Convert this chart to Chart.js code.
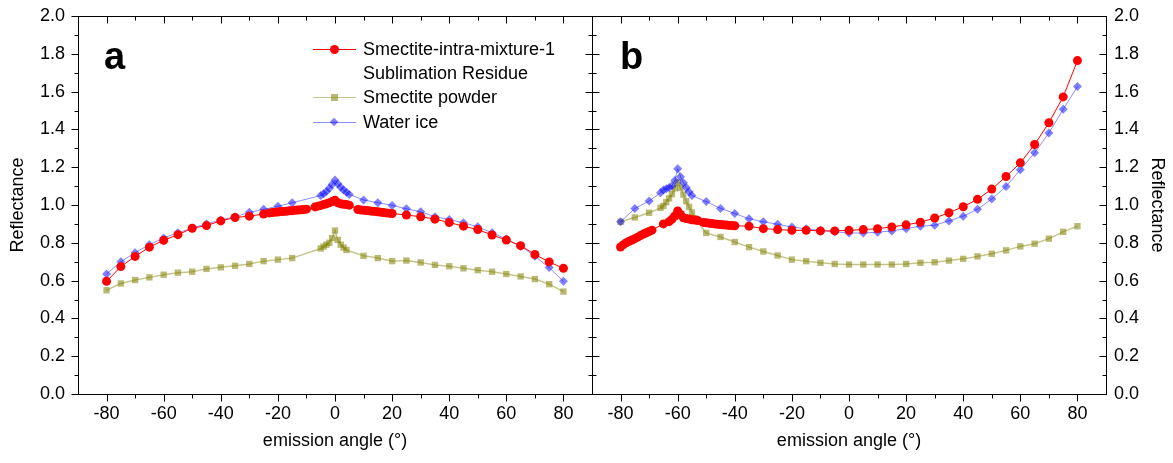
<!DOCTYPE html>
<html>
<head>
<meta charset="utf-8">
<script src="https://cdn.jsdelivr.net/npm/chart.js@4.4.0/dist/chart.umd.min.js"></script>
<style>
  body { margin: 0; background: #fff; }
  #wrap { position: relative; width: 1173px; height: 463px; overflow: hidden; font-family: Arial, "Liberation Sans", sans-serif; color: #000; }
  canvas { position: absolute; top: 0; }
  #chartA { left: 0; }
  #chartB { left: 584px; }
  .panel { position: absolute; font-weight: bold; font-size: 38px; line-height: 38px; }
  #legend { position: absolute; left: 313px; top: 37px; font-size: 18px; }
  .row { position: relative; height: 24.2px; line-height: 24.2px; padding-left: 50px; white-space: nowrap; }
  .key { position: absolute; left: 0; top: 12px; width: 43px; height: 0; }
  .mk { position: absolute; }
</style>
</head>
<body>
<div id="wrap">
  <canvas id="chartA" width="600" height="463"></canvas>
  <canvas id="chartB" width="589" height="463"></canvas>
  <div class="panel" style="left:104px; top:37px;">a</div>
  <div class="panel" style="left:620px; top:37px;">b</div>
  <div id="legend"></div>
</div>
<script>
// ---- data ----
const seriesNames = ['Smectite-intra-mixture-1 Sublimation Residue', 'Smectite powder', 'Water ice'];
const legendLines = [['Smectite-intra-mixture-1', 'Sublimation Residue'], ['Smectite powder'], ['Water ice']];

const xTicks = [-80, -60, -40, -20, 0, 20, 40, 60, 80];
const yTicks = [0, 0.2, 0.4, 0.6, 0.8, 1.0, 1.2, 1.4, 1.6, 1.8, 2.0];

// panel a
const aResidueAngle = [-80, -75, -70, -65, -60, -55, -50, -45, -40, -35, -30, -25,
  -23, -22, -21, -20, -19, -18, -17, -16, -15, -14, -13, -12, -11, -10,
  -7, -6, -5, -4, -3, -2, -1, 0, 1, 2, 3, 4, 5,
  8, 9, 10, 11, 12, 13, 14, 15, 16, 17, 18, 19, 20,
  25, 30, 35, 40, 45, 50, 55, 60, 65, 70, 75, 80];
const aResidueRefl = [0.596, 0.674, 0.728, 0.777, 0.813, 0.843, 0.877, 0.891, 0.916, 0.934, 0.941, 0.952,
  0.958, 0.960, 0.962, 0.963, 0.965, 0.966, 0.967, 0.969, 0.970, 0.972, 0.973, 0.975, 0.976, 0.978,
  0.990, 0.994, 0.998, 1.002, 1.006, 1.012, 1.018, 1.025, 1.012, 1.006, 1.004, 1.002, 0.999,
  0.976, 0.974, 0.972, 0.971, 0.969, 0.967, 0.966, 0.964, 0.962, 0.960, 0.958, 0.957, 0.955,
  0.947, 0.938, 0.925, 0.907, 0.888, 0.870, 0.841, 0.815, 0.785, 0.738, 0.699, 0.665];

const aPowderAngle = [-80, -75, -70, -65, -60, -55, -50, -45, -40, -35, -30, -25, -20, -15,
  -5, -4, -3, -2, -1, 0, 1, 2, 3, 4,
  10, 15, 20, 25, 30, 35, 40, 45, 50, 55, 60, 65, 70, 75, 80];
const aPowderRefl = [0.549, 0.585, 0.603, 0.617, 0.631, 0.642, 0.647, 0.662, 0.670, 0.678, 0.688, 0.703, 0.711, 0.719,
  0.770, 0.780, 0.790, 0.800, 0.825, 0.865, 0.815, 0.790, 0.775, 0.762,
  0.731, 0.719, 0.703, 0.706, 0.696, 0.683, 0.676, 0.665, 0.655, 0.647, 0.635, 0.622, 0.608, 0.581, 0.542];

const aIceAngle = [-80, -75, -70, -65, -60, -55, -50, -45, -40, -35, -30, -25, -20, -15,
  -5, -4, -3, -2, -1, 0, 1, 2, 3, 4, 5,
  10, 15, 20, 25, 30, 35, 40, 45, 50, 55, 60, 65, 70, 75, 80];
const aIceRefl = [0.635, 0.700, 0.748, 0.790, 0.826, 0.853, 0.878, 0.900, 0.921, 0.938, 0.961, 0.977, 0.993, 1.012,
  1.050, 1.060, 1.072, 1.088, 1.108, 1.132, 1.112, 1.094, 1.080, 1.068, 1.056,
  1.027, 1.012, 0.998, 0.980, 0.964, 0.938, 0.923, 0.906, 0.885, 0.853, 0.820, 0.782, 0.729, 0.669, 0.596];

// panel b
const bResidueAngle = [-80, -79, -78, -77, -76, -75, -74, -73, -72, -71, -70, -69,
  -65, -63, -62, -61, -60, -59, -58, -57, -56, -55, -54, -53,
  -51, -50, -49, -48, -47, -46, -45, -44, -43, -42, -41, -40,
  -35, -30, -25, -20, -15, -10, -5, 0, 5, 10, 15, 20, 25, 30, 35, 40, 45, 50, 55, 60, 65, 70, 75, 80];
const bResidueRefl = [0.778, 0.790, 0.800, 0.808, 0.815, 0.822, 0.830, 0.838, 0.846, 0.853, 0.860, 0.867,
  0.900, 0.912, 0.925, 0.942, 0.968, 0.950, 0.932, 0.928, 0.926, 0.922, 0.920, 0.918,
  0.908, 0.906, 0.904, 0.902, 0.900, 0.898, 0.897, 0.895, 0.894, 0.892, 0.891, 0.890,
  0.888, 0.875, 0.870, 0.866, 0.866, 0.863, 0.863, 0.866, 0.870, 0.875, 0.884, 0.895, 0.909, 0.931, 0.959, 0.991, 1.030, 1.084, 1.151, 1.223, 1.320, 1.435, 1.572, 1.764];

const bPowderAngle = [-80, -75, -70, -66, -65, -64, -63, -62, -61, -60, -59, -58, -57, -56, -55, -54,
  -50, -45, -40, -35, -30, -25, -20, -15, -10, -5, 0, 5, 10, 15, 20, 25, 30, 35, 40, 45, 50, 55, 60, 65, 70, 75, 80];
const bPowderRefl = [0.911, 0.934, 0.959, 0.985, 0.995, 1.015, 1.035, 1.058, 1.088, 1.120, 1.090, 1.055, 1.020, 0.990, 0.960, 0.930,
  0.852, 0.831, 0.804, 0.777, 0.754, 0.733, 0.711, 0.703, 0.694, 0.688, 0.685, 0.685, 0.685, 0.685, 0.688, 0.694, 0.697, 0.706, 0.715, 0.728, 0.742, 0.760, 0.781, 0.795, 0.822, 0.858, 0.888];

const bIceAngle = [-80, -75, -70, -66, -65, -64, -63, -62, -61, -60, -59, -58, -57, -56, -55,
  -50, -45, -40, -35, -30, -25, -20, -15, -10, -5, 0, 5, 10, 15, 20, 25, 30, 35, 40, 45, 50, 55, 60, 65, 70, 75, 80];
const bIceRefl = [0.911, 0.982, 1.021, 1.065, 1.080, 1.086, 1.092, 1.102, 1.130, 1.192, 1.150, 1.118, 1.092, 1.070, 1.050,
  1.018, 0.982, 0.955, 0.927, 0.911, 0.898, 0.884, 0.874, 0.866, 0.858, 0.852, 0.852, 0.856, 0.863, 0.875, 0.888, 0.893, 0.916, 0.941, 0.977, 1.032, 1.098, 1.187, 1.276, 1.381, 1.506, 1.627];

// ---- styles ----
const font = { family: 'Arial, "Liberation Sans", sans-serif', size: 18 };
const residueStyle = { borderColor: '#ff0000', backgroundColor: '#ff0000', borderWidth: 1, pointStyle: 'circle', pointRadius: 4.5, order: 0 };
const powderStyle = { borderColor: 'rgba(128,128,0,0.45)', backgroundColor: 'rgba(128,128,0,0.55)', borderWidth: 1.5, pointStyle: 'rect', pointRadius: 4.5, order: 2 };
const iceStyle = { borderColor: 'rgba(0,0,255,0.45)', backgroundColor: 'rgba(0,0,255,0.5)', borderWidth: 1, pointStyle: 'rectRot', pointRadius: 4.5, order: 1 };

function series(name, angles, refl, style) {
  return Object.assign({
    label: name,
    data: angles.map((a, i) => ({ x: a, y: refl[i] })),
    pointBorderWidth: 0,
    tension: 0,
    fill: false
  }, style);
}

function mids(arr) {
  const out = [];
  for (let i = 0; i < arr.length - 1; i++) out.push((arr[i] + arr[i + 1]) / 2);
  return out;
}

// frame + major/minor tick marks, placed with the chart's own scales
const frameTicks = {
  id: 'frameTicks',
  afterDraw(chart, args, o) {
    const { ctx, chartArea: a, scales: { x, y } } = chart;
    const L = Math.round(a.left) + 0.5, R = Math.round(a.right) + 0.5;
    const T = Math.round(a.top) + 0.5, B = Math.round(a.bottom) + 0.5;
    ctx.save();
    ctx.strokeStyle = '#000';
    ctx.lineWidth = 1;
    ctx.strokeRect(L, T, R - L, B - T);
    ctx.beginPath();
    const xs = [[xTicks, 7], [mids(xTicks), 4]];
    const ys = [[yTicks, 7], [mids(yTicks), 4]];
    xs.forEach(([vals, len]) => vals.forEach(v => {
      const p = Math.round(x.getPixelForValue(v)) + 0.5;
      ctx.moveTo(p, B); ctx.lineTo(p, o.bottom === 'out' ? B + len : B - len);
      ctx.moveTo(p, T); ctx.lineTo(p, o.top === 'out' ? T - len : T + len);
    }));
    ys.forEach(([vals, len]) => vals.forEach(v => {
      const p = Math.round(y.getPixelForValue(v)) + 0.5;
      ctx.moveTo(L, p); ctx.lineTo(o.left === 'out' ? L - len : L + len, p);
      ctx.moveTo(R, p); ctx.lineTo(o.right === 'out' ? R + len : R - len, p);
    }));
    ctx.stroke();
    ctx.restore();
  }
};

function makeChart(id, datasets, side) {
  const right = side === 'right';
  return new Chart(document.getElementById(id), {
    type: 'line',
    data: { datasets },
    plugins: [frameTicks],
    options: {
      responsive: false,
      animation: false,
      events: [],
      layout: { padding: { top: 16, left: right ? 8 : 0, right: right ? 0 : 8, bottom: 0 } },
      plugins: {
        legend: { display: false },
        tooltip: { enabled: false },
        frameTicks: right
          ? { left: 'in', right: 'in', top: 'in', bottom: 'out' }
          : { left: 'out', right: 'in', top: 'in', bottom: 'out' }
      },
      scales: {
        x: {
          type: 'linear', min: -90, max: 90,
          afterBuildTicks: s => { s.ticks = xTicks.map(v => ({ value: v })); },
          afterFit: s => { s.height = 69; s.paddingLeft = 0; s.paddingRight = 0; },
          grid: { display: false, drawTicks: false },
          border: { display: false },
          ticks: { font, color: '#000', padding: 9, maxRotation: 0, autoSkip: false },
          title: { display: true, text: 'emission angle (°)', font, color: '#000', padding: { top: 0, bottom: 11 } }
        },
        y: {
          type: 'linear', min: 0, max: 2, position: side,
          afterBuildTicks: s => { s.ticks = yTicks.map(v => ({ value: v })); },
          afterFit: s => { s.width = right ? 67 : 78; s.paddingTop = 0; s.paddingBottom = 0; },
          grid: { display: false, drawTicks: false },
          border: { display: false },
          ticks: { font, color: '#000', padding: right ? 8 : 13, callback: v => v.toFixed(1) },
          title: { display: true, text: 'Reflectance', font, color: '#000', padding: { top: right ? 5 : 7, bottom: 0 } }
        }
      }
    }
  });
}

makeChart('chartA', [
  series(seriesNames[0], aResidueAngle, aResidueRefl, residueStyle),
  series(seriesNames[1], aPowderAngle, aPowderRefl, powderStyle),
  series(seriesNames[2], aIceAngle, aIceRefl, iceStyle)
], 'left');

makeChart('chartB', [
  series(seriesNames[0], bResidueAngle, bResidueRefl, residueStyle),
  series(seriesNames[1], bPowderAngle, bPowderRefl, powderStyle),
  series(seriesNames[2], bIceAngle, bIceRefl, iceStyle)
], 'right');

// legend (panel a)
const markers = [
  { line: '#ff0000', css: 'left:16.5px; top:-5px; width:9px; height:9px; border-radius:50%; background:#ff0000;' },
  { line: 'rgba(128,128,0,0.45)', css: 'left:18px; top:-4px; width:6.5px; height:6.5px; background:rgba(128,128,0,0.55);' },
  { line: 'rgba(0,0,255,0.45)', css: 'left:18px; top:-3.5px; width:6px; height:6px; background:rgba(0,0,255,0.5); transform:rotate(45deg);' }
];
const legend = document.getElementById('legend');
legendLines.forEach((lines, i) => {
  lines.forEach((txt, j) => {
    const row = document.createElement('div');
    row.className = 'row';
    if (j === 0) {
      const key = document.createElement('div');
      key.className = 'key';
      key.style.borderTop = '1px solid ' + markers[i].line;
      const mk = document.createElement('div');
      mk.className = 'mk';
      mk.style.cssText = markers[i].css;
      key.appendChild(mk);
      row.appendChild(key);
    }
    row.appendChild(document.createTextNode(txt));
    legend.appendChild(row);
  });
});
</script>
</body>
</html>
